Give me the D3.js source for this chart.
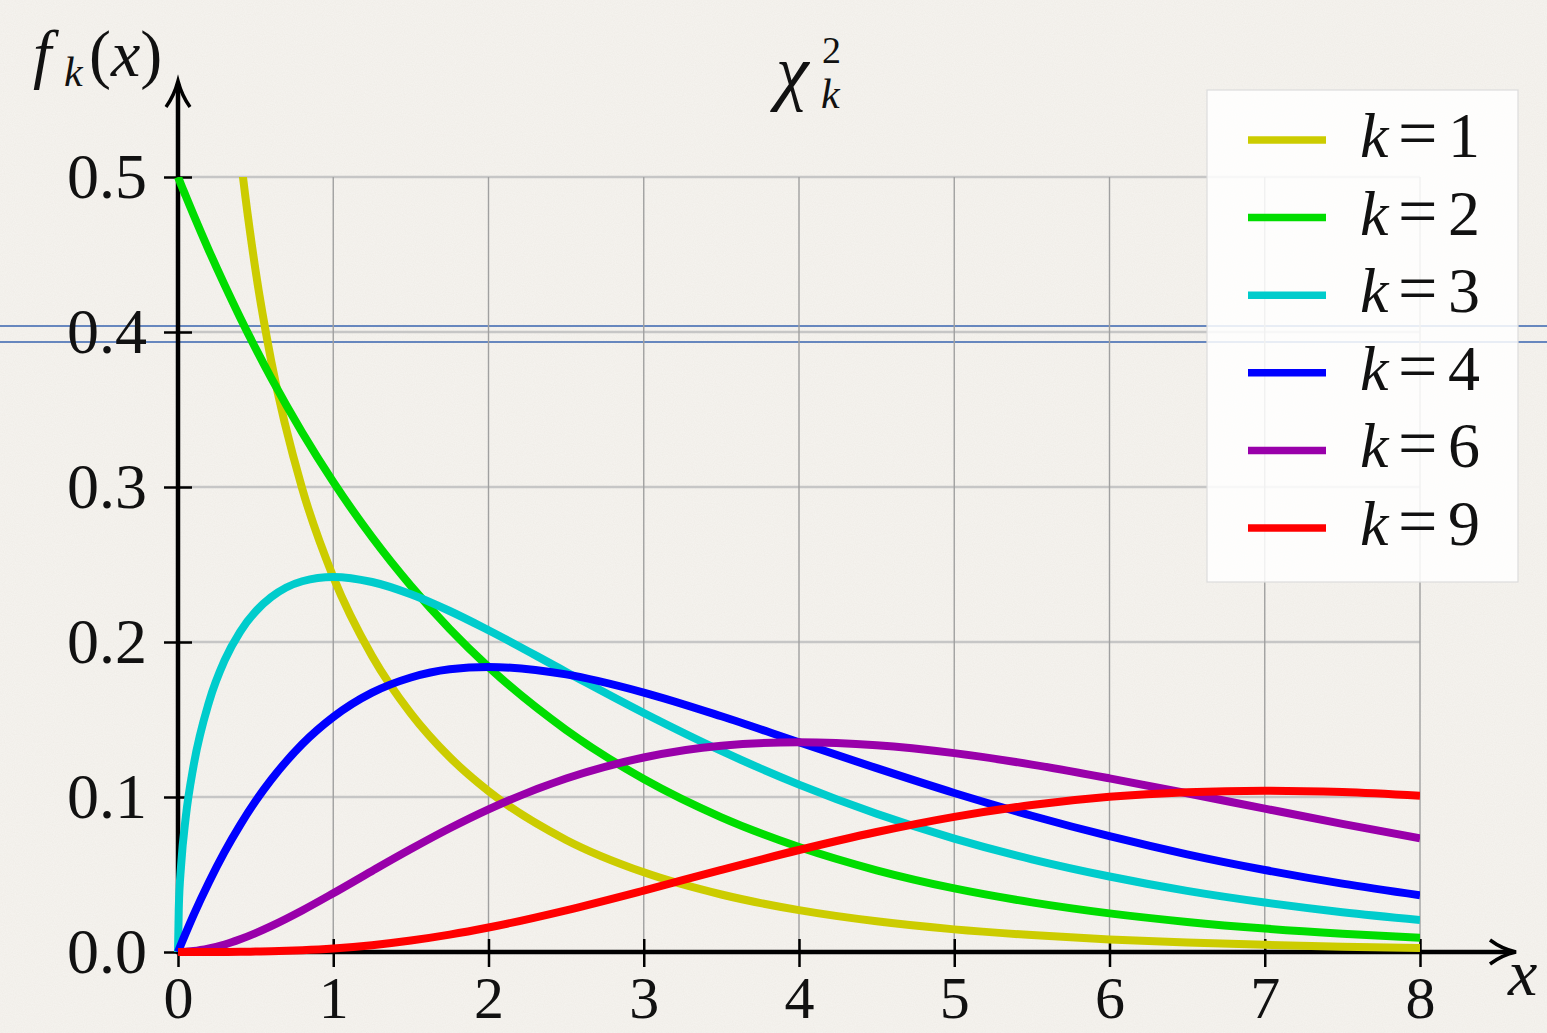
<!DOCTYPE html>
<html>
<head>
<meta charset="utf-8">
<script src="https://cdn.jsdelivr.net/npm/d3@7"></script>
<style>
  html, body { margin: 0; padding: 0; background: #f4f2ee; }
  svg { display: block; }
  text { font-family: "Liberation Serif", "DejaVu Serif", serif; fill: #111; }
</style>
</head>
<body>
<div id="chart"></div>
<script>
let xs = [0, 0.005, 0.02, 0.05, 0.1, 0.2, 0.3, 0.4, 0.5, 0.6, 0.8, 1, 1.25, 1.5, 1.75, 2, 2.5, 3, 3.5, 4, 4.5, 5, 5.5, 6, 6.5, 7, 7.5, 8];

// f_k(x) readings, one array per k
let k1 = [null, null, null, null, 1.200, 0.8072, 0.6269, 0.5164, 0.4394, 0.3815, 0.2990, 0.2420, 0.1910, 0.1539, 0.1257, 0.1038, 0.0723, 0.0514, 0.0371, 0.0270, 0.0198, 0.0146, 0.0109, 0.0081, 0.0061, 0.0046, 0.0034, 0.0026];
let k2 = [0.5, 0.4988, 0.4950, 0.4877, 0.4756, 0.4524, 0.4304, 0.4094, 0.3894, 0.3704, 0.3352, 0.3033, 0.2676, 0.2362, 0.2084, 0.1839, 0.1433, 0.1116, 0.0869, 0.0677, 0.0527, 0.0410, 0.0320, 0.0249, 0.0194, 0.0151, 0.0118, 0.0092];
let k3 = [0, 0.0281, 0.0559, 0.0870, 0.1200, 0.1614, 0.1881, 0.2066, 0.2197, 0.2289, 0.2392, 0.2420, 0.2387, 0.2308, 0.2200, 0.2076, 0.1807, 0.1542, 0.1297, 0.1080, 0.0892, 0.0732, 0.0598, 0.0487, 0.0394, 0.0319, 0.0257, 0.0207];
let k4 = [0, 0.0012, 0.0050, 0.0122, 0.0238, 0.0452, 0.0646, 0.0819, 0.0974, 0.1111, 0.1341, 0.1516, 0.1673, 0.1771, 0.1824, 0.1839, 0.1791, 0.1674, 0.1521, 0.1353, 0.1186, 0.1026, 0.0879, 0.0747, 0.0630, 0.0529, 0.0441, 0.0366];
let k6 = [0, 0, 0, 0.0002, 0.0006, 0.0023, 0.0048, 0.0082, 0.0122, 0.0167, 0.0268, 0.0379, 0.0523, 0.0664, 0.0798, 0.0920, 0.1119, 0.1255, 0.1331, 0.1353, 0.1334, 0.1283, 0.1209, 0.1120, 0.1024, 0.0925, 0.0827, 0.0733];
let k9 = [0, 0, 0, 0, 0, 0, 0.0000, 0.0001, 0.0003, 0.0005, 0.0012, 0.0023, 0.0044, 0.0074, 0.0112, 0.0158, 0.0269, 0.0396, 0.0530, 0.0658, 0.0774, 0.0872, 0.0948, 0.1001, 0.1031, 0.1041, 0.1032, 0.1008];

let seriesNames = ["1", "2", "3", "4", "6", "9"];
let seriesValues = [k1, k2, k3, k4, k6, k9];
let seriesColors = ["#cccc00", "#00dd00", "#00cccc", "#0000ff", "#9900aa", "#ff0000"];

let xTicks = [0, 1, 2, 3, 4, 5, 6, 7, 8];
let yTicks = [0, 0.1, 0.2, 0.3, 0.4, 0.5];

let width = 1547;
let height = 1033;

let svg = d3.select("#chart")
  .append("svg")
  .attr("width", width)
  .attr("height", height);

// paper-like background
let defs = svg.append("defs");
let grain = defs.append("filter").attr("id", "grain");
grain.append("feTurbulence")
  .attr("type", "fractalNoise")
  .attr("baseFrequency", 0.9)
  .attr("numOctaves", 2)
  .attr("seed", 3);
grain.append("feColorMatrix")
  .attr("type", "matrix")
  .attr("values", "0 0 0 0 0.6  0 0 0 0 0.55  0 0 0 0 0.47  0 0 0 0.16 0");

svg.append("rect").attr("width", width).attr("height", height).attr("fill", "#f6f4f0");
svg.append("rect").attr("width", width).attr("height", height).attr("filter", "url(#grain)");

let x = d3.scaleLinear().domain([0, 8]).range([178, 1420]);
let y = d3.scaleLinear().domain([0, 0.5]).range([952, 177]);

// the two stray blue rules across the picture
svg.append("g").selectAll("line")
  .data([326, 342])
  .enter()
  .append("line")
  .attr("x1", 0).attr("x2", width)
  .attr("y1", d => d).attr("y2", d => d)
  .attr("stroke", "#6787be")
  .attr("stroke-width", 2);

// grid
svg.append("g").selectAll("line")
  .data(yTicks.slice(1))
  .enter()
  .append("line")
  .attr("x1", x(0)).attr("x2", x(8))
  .attr("y1", d => y(d)).attr("y2", d => y(d))
  .attr("stroke", "#c6c6c6")
  .attr("stroke-width", 2.5);

svg.append("g").selectAll("line")
  .data(xTicks.slice(1))
  .enter()
  .append("line")
  .attr("x1", d => x(d)).attr("x2", d => x(d))
  .attr("y1", y(0)).attr("y2", y(0.5))
  .attr("stroke", "#a0a0a0")
  .attr("stroke-width", 1.4);

// axes: ticks + labels
let xAxis = svg.append("g")
  .attr("transform", "translate(0,939)")
  .call(d3.axisBottom(x).tickValues(xTicks).tickSize(28).tickPadding(8).tickFormat(d3.format("d")));
let yAxis = svg.append("g")
  .attr("transform", "translate(192,0)")
  .call(d3.axisLeft(y).tickValues(yTicks).tickSize(28).tickPadding(17).tickFormat(d3.format(".1f")));

[xAxis, yAxis].forEach(a => {
  a.select(".domain").remove();
  a.selectAll(".tick line").attr("stroke", "#000").attr("stroke-width", 2.5);
  a.selectAll(".tick text")
    .style("font-family", "'Liberation Serif', serif")
    .style("font-size", "64px")
    .attr("fill", "#111");
});
xAxis.selectAll(".tick text").style("font-size", "60px");

// axis lines with arrows
svg.append("line")
  .attr("x1", x(0)).attr("x2", x(0))
  .attr("y1", y(0) + 2).attr("y2", 84)
  .attr("stroke", "#000").attr("stroke-width", 4.5);
svg.append("path")
  .attr("d", "M166,107 Q174,96 178,81 Q182,96 190,107")
  .attr("fill", "none").attr("stroke", "#000").attr("stroke-width", 3.5)
  .attr("stroke-linejoin", "miter");

svg.append("line")
  .attr("x1", x(0) - 2).attr("x2", 1512)
  .attr("y1", y(0)).attr("y2", y(0))
  .attr("stroke", "#000").attr("stroke-width", 4.5);
svg.append("path")
  .attr("d", "M1490,940 Q1502,949 1516,952 Q1502,955 1490,964")
  .attr("fill", "none").attr("stroke", "#000").attr("stroke-width", 3.5);

// curves
svg.append("clipPath").attr("id", "plotClip")
  .append("rect")
  .attr("x", 170).attr("y", y(0.5))
  .attr("width", x(8) - 170).attr("height", 60 + y(0) - y(0.5));

let line = d3.line()
  .defined(d => d[1] != null)
  .x(d => x(d[0]))
  .y(d => y(d[1]))
  .curve(d3.curveMonotoneX);

svg.append("g")
  .attr("clip-path", "url(#plotClip)")
  .selectAll("path")
  .data(seriesValues)
  .enter()
  .append("path")
  .attr("d", vals => line(xs.map((xv, i) => [xv, vals[i]])))
  .attr("fill", "none")
  .attr("stroke", (d, i) => seriesColors[i])
  .attr("stroke-width", 8)
  .attr("stroke-linejoin", "round");

// legend
let legend = svg.append("g");
legend.append("rect")
  .attr("x", 1207).attr("y", 90)
  .attr("width", 311).attr("height", 492)
  .attr("fill", "#ffffff").attr("fill-opacity", 0.85)
  .attr("stroke", "#dcdcdc").attr("stroke-width", 1.2);

let legendY = d3.scalePoint().domain(seriesNames).range([140, 528]);

let rows = legend.selectAll("g.row")
  .data(seriesNames)
  .enter()
  .append("g")
  .attr("class", "row");

rows.append("line")
  .attr("x1", 1248).attr("x2", 1326)
  .attr("y1", d => legendY(d)).attr("y2", d => legendY(d))
  .attr("stroke", (d, i) => seriesColors[i])
  .attr("stroke-width", 7.5);

let rowText = rows.append("text")
  .attr("y", d => legendY(d) + 17)
  .style("font-size", "64px");
rowText.append("tspan").attr("x", 1360).style("font-style", "italic").text("k");
rowText.append("tspan").attr("x", 1398).style("font-size", "70px").text("=");
rowText.append("tspan").attr("x", 1448).text(d => d);

// title: chi^2_k
let title = svg.append("g");
title.append("text").attr("x", 776).attr("y", 96).style("font-size", "74px").style("font-style", "italic").text("χ");
title.append("text").attr("x", 822).attr("y", 63).style("font-size", "38px").text("2");
title.append("text").attr("x", 821).attr("y", 108).style("font-size", "42px").style("font-style", "italic").text("k");

// y label: f_k(x)
let ylab = svg.append("text").attr("y", 76).style("font-size", "66px");
ylab.append("tspan").attr("x", 33).style("font-style", "italic").text("f");
ylab.append("tspan").attr("x", 64).attr("dy", 10).style("font-size", "42px").style("font-style", "italic").text("k");
ylab.append("tspan").attr("x", 89).attr("dy", -10).text("(");
ylab.append("tspan").style("font-style", "italic").text("x");
ylab.append("tspan").text(")");

// x label
svg.append("text").attr("x", 1508).attr("y", 995)
  .style("font-size", "66px").style("font-style", "italic").text("x");
</script>
</body>
</html>
